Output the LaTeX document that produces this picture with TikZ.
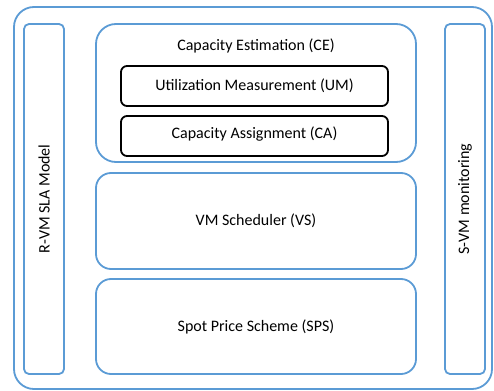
\documentclass[tikz,border=0pt]{standalone}
\usepackage{fontspec}
\setmainfont{Carlito}
\definecolor{frameblue}{RGB}{91,155,213}
\begin{document}
\begin{tikzpicture}[x=1pt,y=-1pt,
  bluebox/.style={draw=frameblue,line width=1.8pt},
  blackbox/.style={draw=black,line width=1.8pt,rounded corners=6pt},
  lbl/.style={font=\fontsize{16}{18}\selectfont}]
\useasboundingbox (0,0) rectangle (494,390);
% outer frame
\draw[bluebox,rounded corners=20pt] (14,7) rectangle (492,389);
% side columns
\draw[bluebox,rounded corners=5pt] (24,24) rectangle (64,374);
\draw[bluebox,rounded corners=5pt] (445,24) rectangle (485,374);
\node[lbl,rotate=90] (sla) at (44,199) {R-VM SLA Model};
\node[lbl,rotate=90] (mon) at (465,199) {S-VM monitoring};
% capacity estimation group
\draw[bluebox,rounded corners=20pt] (96,24) rectangle (416,162);
\node[lbl] (ce) at (256,46) {Capacity Estimation (CE)};
\draw[blackbox] (121,66) rectangle (388,106);
\node[lbl] (um) at (254.5,86) {Utilization Measurement (UM)};
\draw[blackbox] (121,116) rectangle (388,156);
\node[lbl] (ca) at (254.5,134) {Capacity Assignment (CA)};
% scheduler and pricing blocks
\draw[bluebox,rounded corners=15pt] (96,173) rectangle (416,269);
\node[lbl] (vs) at (256,221) {VM Scheduler (VS)};
\draw[bluebox,rounded corners=15pt] (96,279) rectangle (416,374);
\node[lbl] (sps) at (256,327) {Spot Price Scheme (SPS)};
\end{tikzpicture}
\end{document}
